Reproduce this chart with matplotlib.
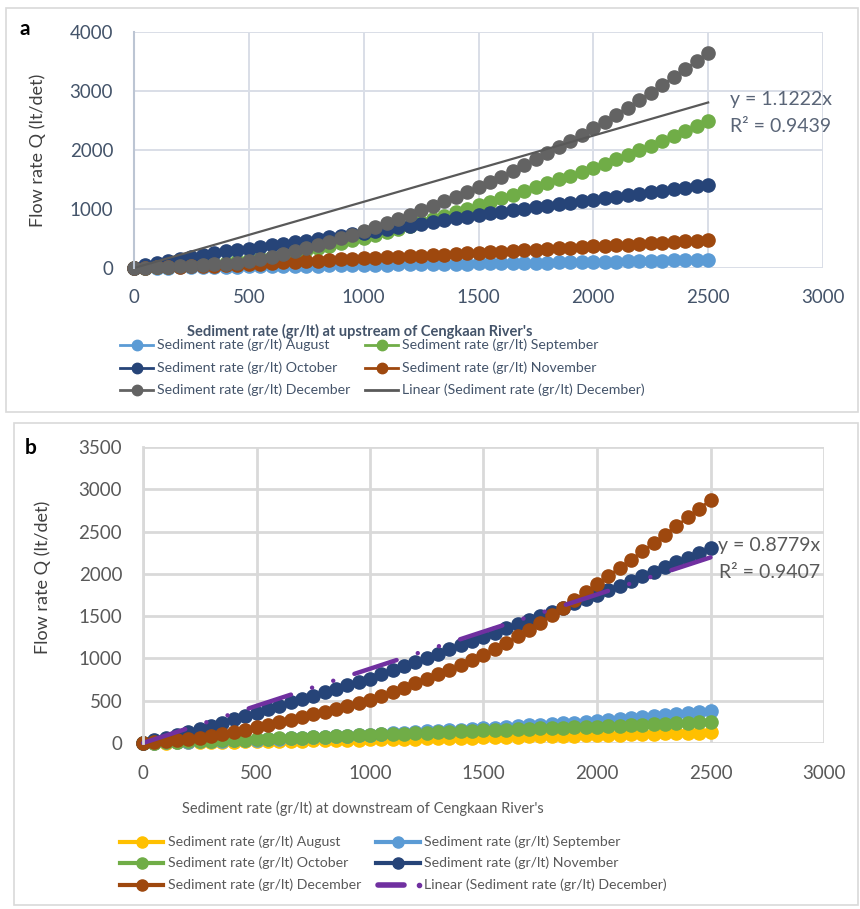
import numpy as np
import matplotlib.pyplot as plt
from matplotlib.lines import Line2D
from matplotlib.patches import Rectangle

plt.rcParams['font.family'] = ['Lato', 'DejaVu Sans']

W, H = 860, 909

# sediment rate (gr/lt), same for every series
x_vals = [0, 50, 100, 150, 200, 250, 300, 350, 400, 450, 500, 550, 600, 650, 700,
          750, 800, 850, 900, 950, 1000, 1050, 1100, 1150, 1200, 1250, 1300, 1350,
          1400, 1450, 1500, 1550, 1600, 1650, 1700, 1750, 1800, 1850, 1900, 1950,
          2000, 2050, 2100, 2150, 2200, 2250, 2300, 2350, 2400, 2450, 2500]

# panel a - upstream, flow rate Q (lt/det)
up_aug = [0, 3, 5, 8, 10, 13, 15, 18, 20, 23, 26, 28, 31, 33, 36, 39, 41, 44, 47, 50, 53,
          55, 58, 60, 63, 65, 68, 70, 73, 75, 78, 80, 83, 85, 88, 90, 93, 95, 98, 100, 103,
          107, 110, 114, 118, 122, 126, 130, 134, 138, 143]
up_sep = [0, 5, 12, 21, 32, 44, 58, 74, 92, 112, 135, 163, 194, 227, 262, 299, 338, 379, 422, 467, 515,
          564, 614, 666, 719, 773, 828, 884, 942, 1001, 1061, 1121, 1182, 1244, 1307, 1371, 1435,
          1500, 1566, 1633, 1701, 1771, 1843, 1917, 1993, 2071, 2151, 2233, 2317, 2403, 2491]
up_oct = [0, 45, 87, 125, 160, 193, 224, 253, 280, 306, 330, 356, 383, 410, 437, 464, 491, 518, 545, 572, 600,
          630, 660, 690, 720, 750, 780, 810, 840, 870, 900, 926, 951, 977, 1002, 1028, 1053, 1079,
          1104, 1130, 1155, 1181, 1207, 1233, 1259, 1285, 1311, 1337, 1363, 1389, 1415]
up_nov = [0, 4, 9, 14, 20, 26, 33, 40, 48, 56, 65, 75, 85, 95, 105, 115, 125, 135, 145, 155, 165,
          174, 183, 192, 201, 210, 219, 228, 237, 246, 255, 266, 277, 288, 299, 310, 321, 332, 343,
          354, 365, 376, 387, 398, 409, 420, 431, 442, 453, 464, 475]
up_dec = [0, 5, 11, 18, 26, 36, 47, 60, 75, 93, 115, 150, 190, 234, 282, 333, 387, 444, 504, 566, 630,
          696, 764, 834, 906, 979, 1054, 1130, 1208, 1287, 1368, 1458, 1550, 1644, 1741, 1840, 1941,
          2044, 2149, 2256, 2365, 2480, 2598, 2719, 2843, 2970, 3100, 3233, 3369, 3506, 3645]
up_slope = 1.1222
up_r2 = 0.9439

# panel b - downstream
dn_aug = [0, 2, 4, 6, 8, 10, 12, 14, 16, 18, 20, 22, 24, 27, 29, 31, 33, 36, 38, 40, 43,
          45, 47, 50, 52, 55, 57, 60, 62, 65, 67, 70, 72, 75, 77, 80, 82, 85, 88, 90, 93,
          96, 99, 102, 106, 109, 113, 116, 120, 124, 128]
dn_sep = [0, 3, 7, 10, 14, 18, 22, 26, 30, 35, 40, 45, 51, 57, 63, 69, 75, 81, 87, 93, 100,
          107, 114, 121, 129, 136, 144, 151, 159, 167, 175, 183, 191, 200, 208, 217, 225, 234, 242,
          251, 260, 271, 282, 293, 304, 316, 328, 340, 352, 365, 378]
dn_oct = [0, 4, 9, 13, 18, 22, 27, 31, 36, 40, 45, 50, 55, 60, 65, 70, 75, 80, 85, 90, 95,
          101, 106, 112, 117, 123, 128, 134, 139, 145, 150, 155, 159, 164, 168, 173, 177, 182, 186,
          191, 195, 201, 206, 212, 217, 223, 228, 234, 239, 245, 250]
dn_nov = [0, 30, 62, 96, 131, 167, 204, 242, 281, 320, 360, 400, 440, 480, 520, 560, 600, 640, 680, 720, 760,
          810, 860, 909, 959, 1009, 1058, 1108, 1158, 1207, 1257, 1306, 1356, 1405, 1454, 1504, 1553,
          1602, 1651, 1701, 1750, 1805, 1860, 1915, 1970, 2025, 2081, 2136, 2191, 2246, 2301]
dn_dec = [0, 8, 19, 32, 47, 64, 83, 105, 130, 158, 190, 218, 247, 277, 308, 340, 372, 405, 439, 474, 510,
          555, 603, 653, 704, 757, 811, 867, 924, 982, 1040, 1110, 1184, 1261, 1341, 1424, 1510,
          1599, 1690, 1784, 1880, 1975, 2071, 2168, 2266, 2365, 2465, 2566, 2668, 2770, 2872]
dn_slope = 0.8779
dn_r2 = 0.9407

fit_x = np.array([0, 2500])
months = ["August", "September", "October", "November", "December"]

up_colors = ['#5B9BD5', '#70AD47', '#264478', '#9E480E', '#636363']
dn_colors = ['#FFC000', '#5B9BD5', '#70AD47', '#264478', '#9E480E']


def fx(px):
    return px / W


def fy(py):
    return 1 - py / H


def axes_box(l, t, r, b):
    return [fx(l), fy(b), (r - l) / W, (b - t) / H]


fig = plt.figure(figsize=(W / 100, H / 100), dpi=100)

# panel frames
fig.add_artist(Rectangle((fx(6), fy(412)), (858 - 6) / W, (412 - 8) / H,
                         transform=fig.transFigure, fill=False, ec='#D9D9D9', lw=1.2))
fig.add_artist(Rectangle((fx(14), fy(905)), (858 - 14) / W, (905 - 423) / H,
                         transform=fig.transFigure, fill=False, ec='#D9D9D9', lw=1.2))

# ---------------- panel a ----------------
axa = fig.add_axes(axes_box(134, 32, 823, 268))
for ys, c in zip([up_aug, up_sep, up_oct, up_nov, up_dec], up_colors):
    axa.plot(x_vals, ys, color=c, lw=2, marker='o', ms=9.5, clip_on=False)
axa.plot(fit_x, up_slope * fit_x, color='#595959', lw=1.6, clip_on=False)
axa.set_xlim(0, 3000)
axa.set_ylim(0, 4000)
axa.set_xticks(np.arange(0, 3001, 500))
axa.set_yticks(np.arange(0, 4001, 1000))
axa.grid(color='#D9DEE7', lw=1.4)
axa.set_axisbelow(True)
for s in ['top', 'right', 'bottom']:
    axa.spines[s].set_visible(False)
axa.spines['left'].set_color('#BCC5D3')
axa.spines['left'].set_linewidth(1.5)
axa.tick_params(length=0, labelsize=13.5, labelcolor='#44546A')
axa.tick_params(axis='x', pad=15)
axa.tick_params(axis='y', pad=15)

fig.text(fx(38), fy(150), "Flow rate Q (lt/det)", rotation=90, ha='center', va='center',
         fontsize=13, color='#404040')
fig.text(fx(360), fy(331), "Sediment rate (gr/lt) at upstream of Cengkaan River's",
         ha='center', va='center', fontsize=10.5, fontweight='bold', color='#44546A')
fig.text(fx(25), fy(29), "a", ha='center', va='center', fontsize=15, fontweight='bold', color='black')
fig.text(fx(730), fy(100), f"y = {up_slope:.4f}x", ha='left', va='center', fontsize=14, color='#5A6577')
fig.text(fx(730), fy(127), f"R² = {up_r2:.4f}", ha='left', va='center', fontsize=14, color='#5A6577')

# ---------------- panel b ----------------
axb = fig.add_axes(axes_box(143, 447, 824, 743))
for ys, c in zip([dn_aug, dn_sep, dn_oct, dn_nov, dn_dec], dn_colors):
    axb.plot(x_vals, ys, color=c, lw=2, marker='o', ms=9.5, clip_on=False)
axb.plot(fit_x, dn_slope * fit_x, color='#7030A0', lw=3.2,
         ls=(0, (10, 5, 0.01, 5, 0.01, 5)), dash_capstyle='round', clip_on=False)
axb.set_xlim(0, 3000)
axb.set_ylim(0, 3500)
axb.set_xticks(np.arange(0, 3001, 500))
axb.set_yticks(np.arange(0, 3501, 500))
axb.grid(color='#D9D9D9', lw=2)
axb.set_axisbelow(True)
for s in ['top', 'right', 'bottom']:
    axb.spines[s].set_visible(False)
axb.spines['left'].set_color('#D9D9D9')
axb.spines['left'].set_linewidth(2)
axb.tick_params(length=0, labelsize=13.5, labelcolor='#595959')
axb.tick_params(axis='x', pad=16)
axb.tick_params(axis='y', pad=15)

fig.text(fx(43), fy(577), "Flow rate Q (lt/det)", rotation=90, ha='center', va='center',
         fontsize=13, color='#404040')
fig.text(fx(363), fy(808), "Sediment rate (gr/lt) at downstream of Cengkaan River's",
         ha='center', va='center', fontsize=10.5, color='#595959')
fig.text(fx(31), fy(448), "b", ha='center', va='center', fontsize=15, fontweight='bold', color='black')
fig.text(fx(718), fy(546), f"y = {dn_slope:.4f}x", ha='left', va='center', fontsize=14, color='#595959')
fig.text(fx(719), fy(572), f"R² = {dn_r2:.4f}", ha='left', va='center', fontsize=14, color='#595959')


# ---------------- legends (drawn by hand, row-wise like Excel) ----------------
def legend_entry(x0, x1, y, color, label, tx, tcolor, lw, ms, fs):
    fig.add_artist(Line2D([fx(x0), fx(x1)], [fy(y), fy(y)], transform=fig.transFigure,
                          color=color, lw=lw))
    fig.add_artist(Line2D([fx((x0 + x1) / 2)], [fy(y)], transform=fig.transFigure,
                          color=color, marker='o', ms=ms, lw=0))
    fig.text(fx(tx), fy(y), label, ha='left', va='center', fontsize=fs, color=tcolor)


cols_a = [(120, 153, 157), (365, 398, 402)]
rows_a = [345, 368, 390]
for i, (m, c) in enumerate(zip(months, up_colors)):
    x0, x1, tx = cols_a[i % 2]
    legend_entry(x0, x1, rows_a[i // 2], c, f"Sediment rate (gr/lt) {m}", tx, '#44546A', 2, 7.5, 10.2)
fig.add_artist(Line2D([fx(365), fx(398)], [fy(390), fy(390)], transform=fig.transFigure,
                      color='#595959', lw=2))
fig.text(fx(402), fy(390), "Linear (Sediment rate (gr/lt) December)", ha='left', va='center',
         fontsize=10.2, color='#44546A')

cols_b = [(120, 163, 168), (376, 420, 424)]
rows_b = [842, 863, 885]
for i, (m, c) in enumerate(zip(months, dn_colors)):
    x0, x1, tx = cols_b[i % 2]
    legend_entry(x0, x1, rows_b[i // 2], c, f"Sediment rate (gr/lt) {m}", tx, '#595959', 3, 8, 10.2)
fig.add_artist(Line2D([fx(378), fx(404)], [fy(885), fy(885)], transform=fig.transFigure,
                      color='#7030A0', lw=4, solid_capstyle='round'))
fig.add_artist(Line2D([fx(419)], [fy(885)], transform=fig.transFigure,
                      color='#7030A0', marker='o', ms=3, lw=0))
fig.text(fx(424), fy(885), "Linear (Sediment rate (gr/lt) December)", ha='left', va='center',
         fontsize=10.2, color='#595959')

fig.savefig("out.png", dpi=100)
